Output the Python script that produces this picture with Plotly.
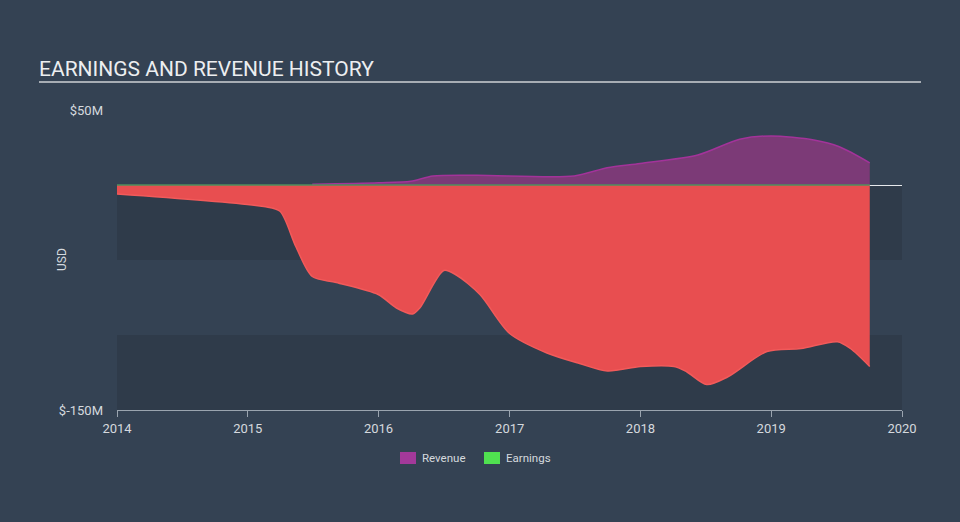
import plotly.graph_objects as go

# ---- data (USD millions) ----
earn_dates = ["2014-01-01", "2015-02-15", "2015-04-01", "2015-05-15", "2015-06-30",
              "2015-09-05", "2015-12-31", "2016-02-20", "2016-04-05", "2016-04-25",
              "2016-07-01", "2016-08-05", "2016-10-10", "2017-01-01", "2017-04-15",
              "2017-07-15", "2017-10-01", "2018-01-01", "2018-04-05", "2018-05-10",
              "2018-07-05", "2018-09-01", "2018-12-20", "2019-03-25", "2019-07-05",
              "2019-08-10", "2019-10-03"]
earnings = [-6, -14.4, -17.5, -41, -61,
            -65, -73, -82, -86, -82,
            -57, -60, -73, -99, -112,
            -119, -124, -121, -121, -124.5,
            -133, -128, -111, -109, -104.5,
            -109, -121]

rev_dates = ["2015-06-30", "2016-01-01", "2016-03-31", "2016-06-01", "2016-09-30",
             "2017-06-30", "2017-09-30", "2017-12-31", "2018-06-10", "2018-10-05",
             "2018-12-31", "2019-04-30", "2019-07-10", "2019-10-03"]
revenue = [0.5, 1.5, 2.5, 6, 6.5,
           6, 11.5, 14.4, 20, 30.5,
           32.7, 30, 25.5, 14.8]

year_ticks = ["2014", "2015", "2016", "2017", "2018", "2019", "2020"]
y_ticks = [50, -150]
y_tick_labels = ["$50M", "$-150M"]
legend_names = ["Revenue", "Earnings"]
legend_colors = ["#a3399a", "#50e050"]

PAPER = "#344253"
BAND = "#2f3b4a"
TEXT = "#d5d9de"

# plot area in pixels: x 117..902, y 110..410
PX0, PW, PY1, PH = 117, 785, 410, 300
def px(x):
    return (x - PX0) / PW
def py(y):
    return (PY1 - y) / PH

fig = go.Figure()

# revenue area
fig.add_trace(go.Scatter(
    x=rev_dates, y=revenue, mode="lines", fill="tozeroy",
    line=dict(color="#a3339a", width=1.5, shape="spline", smoothing=0.8),
    fillcolor="#7c3a77", showlegend=False, hoverinfo="skip"))

# earnings area
fig.add_trace(go.Scatter(
    x=earn_dates, y=earnings, mode="lines", fill="tozeroy",
    line=dict(color="#f25a5a", width=1.5, shape="spline", smoothing=0.8),
    fillcolor="#e84e50", showlegend=False, hoverinfo="skip"))

# earnings zero line (green)
fig.add_trace(go.Scatter(
    x=[earn_dates[0], earn_dates[-1]], y=[0, 0], mode="lines",
    line=dict(color="#4f8f5c", width=1.5), showlegend=False, hoverinfo="skip"))

shapes = [
    dict(type="rect", xref="paper", yref="y", x0=0, x1=1, y0=0, y1=-50,
         fillcolor=BAND, line=dict(width=0), layer="below"),
    dict(type="rect", xref="paper", yref="y", x0=0, x1=1, y0=-100, y1=-150,
         fillcolor=BAND, line=dict(width=0), layer="below"),
    # title underline
    dict(type="line", xref="paper", yref="paper", x0=px(39), x1=px(921),
         y0=py(82), y1=py(82), line=dict(color="#a7adb4", width=2)),
]

annotations = [
    dict(text="USD", xref="paper", yref="paper", x=px(62), y=py(260),
         xanchor="center", yanchor="middle", textangle=-90, showarrow=False,
         font=dict(size=12, color=TEXT)),
]

# manual legend
leg_x = [400, 484]
for name, col, lx in zip(legend_names, legend_colors, leg_x):
    shapes.append(dict(type="rect", xref="paper", yref="paper",
                       x0=px(lx), x1=px(lx + 16), y0=py(464), y1=py(452),
                       fillcolor=col, line=dict(width=0)))
    annotations.append(dict(text=name, xref="paper", yref="paper",
                            x=px(lx + 20), y=py(458), xanchor="left", yanchor="middle",
                            showarrow=False, font=dict(size=11.5, color=TEXT)))

fig.update_layout(
    width=960, height=522,
    paper_bgcolor=PAPER, plot_bgcolor=PAPER,
    margin=dict(l=117, r=58, t=110, b=112),
    font=dict(family="Roboto", color=TEXT, size=12),
    title=dict(text="EARNINGS AND REVENUE HISTORY", x=39 / 960, xanchor="left",
               y=1 - 76 / 522, yanchor="bottom",
               font=dict(family="Roboto", size=21, color="#eceef0")),
    shapes=shapes,
    annotations=annotations,
    showlegend=False,
    xaxis=dict(type="date", range=["2014-01-01", "2020-01-01"],
               tickvals=[y + "-01-01" for y in year_ticks], ticktext=year_ticks,
               showgrid=False, zeroline=False,
               showline=True, linecolor="#9aa4af", linewidth=1,
               ticks="outside", ticklen=6, tickcolor="#9aa4af",
               tickfont=dict(size=13, color=TEXT)),
    yaxis=dict(range=[-150, 50], tickvals=y_ticks, ticktext=y_tick_labels,
               showgrid=False, zeroline=True, zerolinecolor="#e6e9ec", zerolinewidth=1,
               showline=False, ticks="", ticklabelstandoff=13,
               tickfont=dict(size=13, color=TEXT)),
)

fig.write_html("out.html", config={"displayModeBar": False},
               post_script="document.body.style.margin='0';")
